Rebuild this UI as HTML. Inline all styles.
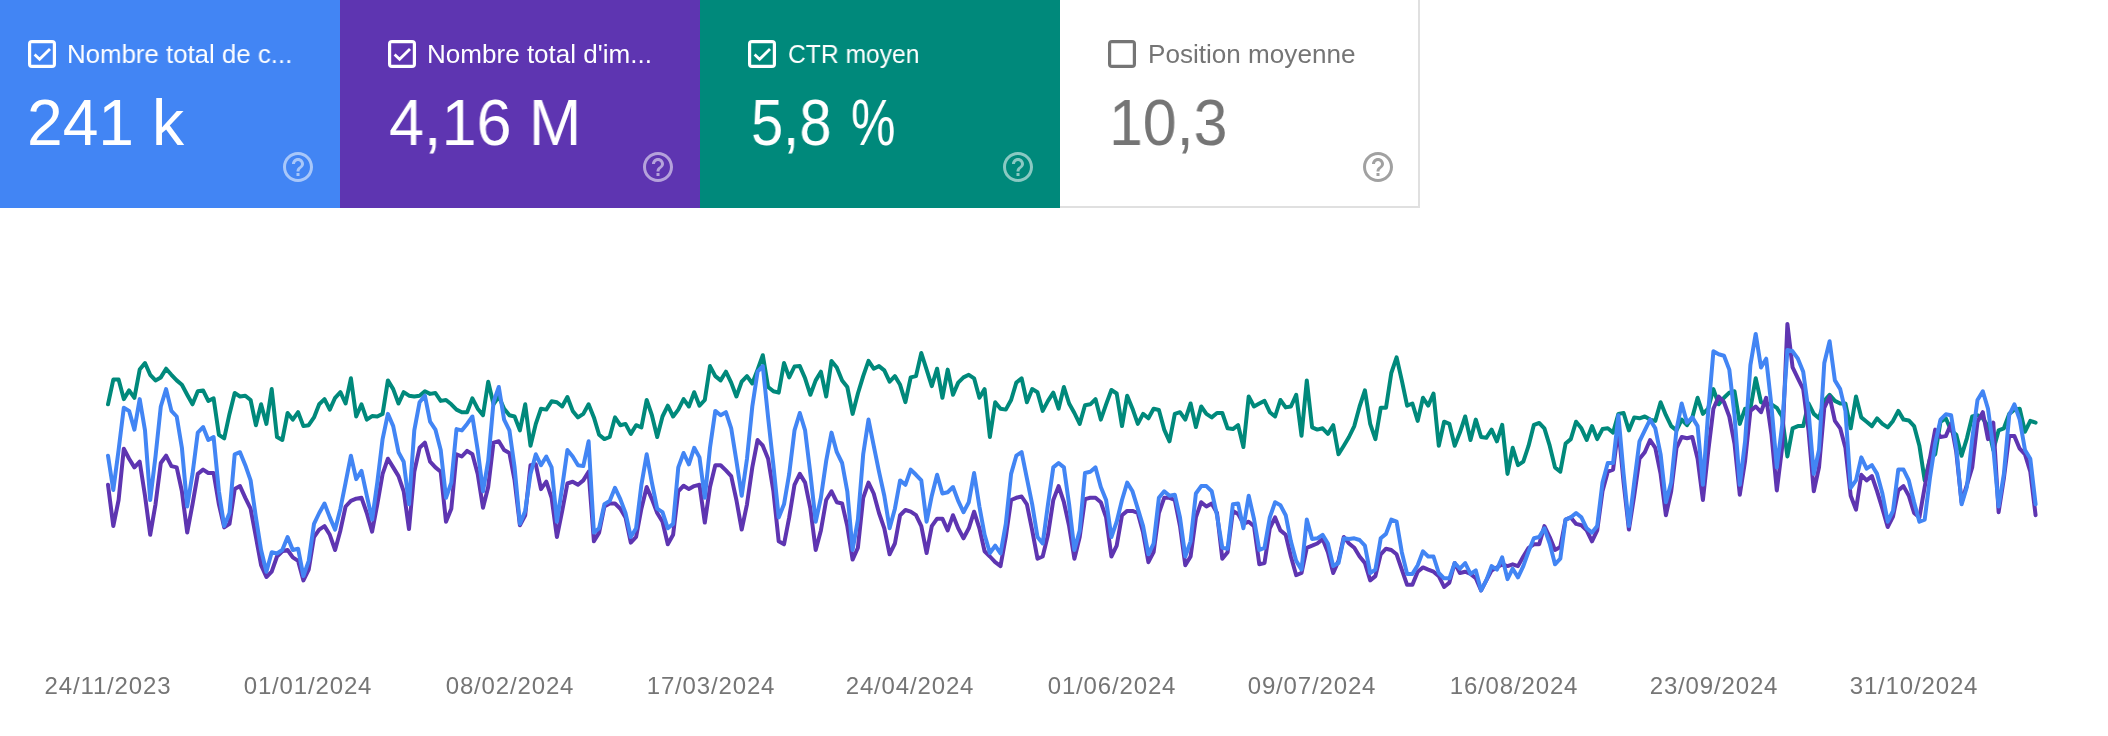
<!DOCTYPE html>
<html><head><meta charset="utf-8"><title>Performances</title>
<style>
html,body{margin:0;padding:0;background:#fff;}
body{width:2108px;height:736px;position:relative;overflow:hidden;font-family:"Liberation Sans",sans-serif;}
.card{position:absolute;top:0;height:208px;}
.cb{position:absolute;left:48px;top:40px;}
.lab,.val,.date{will-change:transform;}
.lab{position:absolute;top:38px;font-size:26px;line-height:32px;white-space:nowrap;transform-origin:0 50%;}
.val{position:absolute;top:86px;font-size:64px;line-height:74px;white-space:nowrap;transform-origin:0 50%;}
.help{position:absolute;left:300px;top:149px;}
.date{position:absolute;top:671px;width:200px;text-align:center;font-size:24px;line-height:30px;color:#757575;letter-spacing:0.85px;}
svg.chart{position:absolute;left:0;top:0;}
polyline{fill:none;stroke-width:4;stroke-linejoin:round;stroke-linecap:round;}
</style></head><body>
<div class="card" style="left:-20px;width:360px;background:#4285f4;color:#fff;">
<svg class="cb" width="28" height="28" viewBox="0 0 28 28"><path d="M4 0H24A4 4 0 0 1 28 4V24A4 4 0 0 1 24 28H4A4 4 0 0 1 0 24V4A4 4 0 0 1 4 0ZM3.2 3.2V24.8H24.8V3.2Z" fill="#fff" fill-rule="evenodd"/><path d="M6.6 14.4 L11.6 19.3 L22 8.9" fill="none" stroke="#fff" stroke-width="2.8"/></svg>
<div class="lab" id="lab0" style="left:87.21px;transform:scaleX(0.9928)">Nombre total de c...</div>
<div class="val" id="val0_0" style="left:46.79px;transform:scaleX(1.0026)">241 k</div>
<svg class="help" width="36" height="36" viewBox="0 0 24 24" style="opacity:0.54"><path d="M11 18h2v-2h-2v2zm1-16C6.48 2 2 6.48 2 12s4.48 10 10 10 10-4.48 10-10S17.52 2 12 2zm0 18c-4.41 0-8-3.59-8-8s3.59-8 8-8 8 3.59 8 8-3.59 8-8 8zm0-14c-2.21 0-4 1.79-4 4h2c0-1.1.9-2 2-2s2 .9 2 2c0 2-3 1.75-3 5h2c0-2.25 3-2.5 3-5 0-2.21-1.79-4-4-4z" fill="#fff"/></svg>
</div>
<div class="card" style="left:340px;width:360px;background:#5e35b1;color:#fff;">
<svg class="cb" width="28" height="28" viewBox="0 0 28 28"><path d="M4 0H24A4 4 0 0 1 28 4V24A4 4 0 0 1 24 28H4A4 4 0 0 1 0 24V4A4 4 0 0 1 4 0ZM3.2 3.2V24.8H24.8V3.2Z" fill="#fff" fill-rule="evenodd"/><path d="M6.6 14.4 L11.6 19.3 L22 8.9" fill="none" stroke="#fff" stroke-width="2.8"/></svg>
<div class="lab" id="lab1" style="left:87.20px;transform:scaleX(1.0018)">Nombre total d'im...</div>
<div class="val" id="val1_0" style="left:48.62px;transform:scaleX(0.9832)">4,16 M</div>
<svg class="help" width="36" height="36" viewBox="0 0 24 24" style="opacity:0.54"><path d="M11 18h2v-2h-2v2zm1-16C6.48 2 2 6.48 2 12s4.48 10 10 10 10-4.48 10-10S17.52 2 12 2zm0 18c-4.41 0-8-3.59-8-8s3.59-8 8-8 8 3.59 8 8-3.59 8-8 8zm0-14c-2.21 0-4 1.79-4 4h2c0-1.1.9-2 2-2s2 .9 2 2c0 2-3 1.75-3 5h2c0-2.25 3-2.5 3-5 0-2.21-1.79-4-4-4z" fill="#fff"/></svg>
</div>
<div class="card" style="left:700px;width:360px;background:#00897b;color:#fff;">
<svg class="cb" width="28" height="28" viewBox="0 0 28 28"><path d="M4 0H24A4 4 0 0 1 28 4V24A4 4 0 0 1 24 28H4A4 4 0 0 1 0 24V4A4 4 0 0 1 4 0ZM3.2 3.2V24.8H24.8V3.2Z" fill="#fff" fill-rule="evenodd"/><path d="M6.6 14.4 L11.6 19.3 L22 8.9" fill="none" stroke="#fff" stroke-width="2.8"/></svg>
<div class="lab" id="lab2" style="left:88.26px;transform:scaleX(0.9475)">CTR moyen</div>
<div class="val" id="val2_0" style="left:50.59px;transform:scaleX(0.9036)">5,8</div>
<div class="val" id="val2_1" style="left:150.64px;transform:scaleX(0.7813)">%</div>
<svg class="help" width="36" height="36" viewBox="0 0 24 24" style="opacity:0.54"><path d="M11 18h2v-2h-2v2zm1-16C6.48 2 2 6.48 2 12s4.48 10 10 10 10-4.48 10-10S17.52 2 12 2zm0 18c-4.41 0-8-3.59-8-8s3.59-8 8-8 8 3.59 8 8-3.59 8-8 8zm0-14c-2.21 0-4 1.79-4 4h2c0-1.1.9-2 2-2s2 .9 2 2c0 2-3 1.75-3 5h2c0-2.25 3-2.5 3-5 0-2.21-1.79-4-4-4z" fill="#fff"/></svg>
</div>
<div class="card" style="left:1060px;width:360px;background:#fff;color:#757575;box-sizing:border-box;border-right:2px solid #e0e0e0;border-bottom:2px solid #e0e0e0;">
<svg class="cb" width="28" height="28" viewBox="0 0 28 28"><path d="M4 0H24A4 4 0 0 1 28 4V24A4 4 0 0 1 24 28H4A4 4 0 0 1 0 24V4A4 4 0 0 1 4 0ZM3.2 3.2V24.8H24.8V3.2Z" fill="#757575" fill-rule="evenodd"/></svg>
<div class="lab" id="lab3" style="left:88.19px;transform:scaleX(1.0039)">Position moyenne</div>
<div class="val" id="val3_0" style="left:48.65px;transform:scaleX(0.9505)">10,3</div>
<svg class="help" width="36" height="36" viewBox="0 0 24 24" style="opacity:0.68"><path d="M11 18h2v-2h-2v2zm1-16C6.48 2 2 6.48 2 12s4.48 10 10 10 10-4.48 10-10S17.52 2 12 2zm0 18c-4.41 0-8-3.59-8-8s3.59-8 8-8 8 3.59 8 8-3.59 8-8 8zm0-14c-2.21 0-4 1.79-4 4h2c0-1.1.9-2 2-2s2 .9 2 2c0 2-3 1.75-3 5h2c0-2.25 3-2.5 3-5 0-2.21-1.79-4-4-4z" fill="#757575"/></svg>
</div>

<svg class="chart" width="2108" height="736" viewBox="0 0 2108 736">
<polyline stroke="#00897b" points="108.0,404.3 113.3,379.6 118.6,379.6 123.8,399.1 129.1,390.4 134.4,397.8 139.7,369.6 145.0,363.0 150.2,374.8 155.5,380.4 160.8,377.4 166.1,368.7 171.4,374.8 176.7,380.4 181.9,384.8 187.2,394.8 192.5,404.3 197.8,391.3 203.1,390.4 208.3,400.9 213.6,398.3 218.9,434.8 224.2,438.3 229.5,413.9 234.7,393.0 240.0,396.5 245.3,395.7 250.6,400.0 255.9,425.2 261.1,404.3 266.4,423.9 271.7,389.1 277.0,437.0 282.3,440.0 287.6,413.0 292.8,419.6 298.1,412.2 303.4,426.1 308.7,425.2 314.0,417.4 319.2,404.3 324.5,399.1 329.8,409.6 335.1,397.8 340.4,392.2 345.6,403.5 350.9,378.3 356.2,416.5 361.5,404.3 366.8,419.6 372.1,416.1 377.3,416.5 382.6,413.9 387.9,380.4 393.2,389.1 398.5,403.5 403.7,392.2 409.0,395.7 414.3,396.5 419.6,395.7 424.9,391.3 430.1,393.9 435.4,393.0 440.7,400.9 446.0,400.0 451.3,404.3 456.5,409.6 461.8,412.2 467.1,412.2 472.4,398.3 477.7,408.7 483.0,415.2 488.2,381.7 493.5,404.3 498.8,396.5 504.1,408.7 509.4,415.2 514.6,416.5 519.9,430.4 525.2,404.3 530.5,445.7 535.8,423.9 541.0,408.7 546.3,409.6 551.6,401.3 556.9,402.2 562.2,406.5 567.4,397.0 572.7,410.9 578.0,417.4 583.3,413.9 588.6,404.3 593.9,417.4 599.1,434.8 604.4,439.1 609.7,437.0 615.0,417.4 620.3,425.2 625.5,423.9 630.8,433.9 636.1,425.2 641.4,427.4 646.7,400.0 651.9,415.2 657.2,437.0 662.5,416.5 667.8,405.7 673.1,416.5 678.3,409.6 683.6,399.1 688.9,406.5 694.2,392.2 699.5,405.7 704.8,400.0 710.0,366.1 715.3,376.1 720.6,380.4 725.9,371.7 731.2,382.6 736.4,396.5 741.7,381.7 747.0,376.1 752.3,383.5 757.6,369.6 762.8,355.2 768.1,387.0 773.4,391.3 778.7,392.6 784.0,363.0 789.2,377.4 794.5,366.5 799.8,366.1 805.1,378.3 810.4,394.8 815.7,380.4 820.9,371.7 826.2,396.5 831.5,360.9 836.8,367.4 842.1,380.4 847.3,387.0 852.6,413.9 857.9,393.5 863.2,376.1 868.5,360.9 873.7,368.7 879.0,366.1 884.3,370.4 889.6,381.7 894.9,376.1 900.1,384.8 905.4,402.2 910.7,377.4 916.0,376.1 921.3,353.0 926.6,369.6 931.8,386.1 937.1,368.7 942.4,397.8 947.7,369.6 953.0,394.8 958.2,382.6 963.5,377.4 968.8,374.8 974.1,378.3 979.4,397.8 984.6,389.1 989.9,437.0 995.2,402.2 1000.5,408.7 1005.8,409.6 1011.1,400.0 1016.3,382.6 1021.6,378.3 1026.9,402.2 1032.2,389.1 1037.5,392.2 1042.7,410.9 1048.0,400.9 1053.3,392.6 1058.6,408.7 1063.9,387.0 1069.1,403.5 1074.4,413.0 1079.7,423.9 1085.0,405.2 1090.3,404.3 1095.5,399.1 1100.8,419.6 1106.1,404.3 1111.4,390.0 1116.7,393.5 1122.0,426.1 1127.2,395.7 1132.5,408.7 1137.8,423.9 1143.1,413.9 1148.4,418.3 1153.6,408.7 1158.9,410.0 1164.2,429.6 1169.5,441.3 1174.8,413.9 1180.0,412.2 1185.3,419.6 1190.6,403.5 1195.9,427.0 1201.2,406.5 1206.4,413.9 1211.7,417.4 1217.0,413.0 1222.3,413.0 1227.6,428.3 1232.9,429.1 1238.1,425.2 1243.4,447.0 1248.7,396.5 1254.0,406.5 1259.3,403.5 1264.5,400.9 1269.8,412.2 1275.1,416.5 1280.4,400.0 1285.7,407.4 1290.9,406.5 1296.2,394.8 1301.5,435.7 1306.8,380.4 1312.1,427.4 1317.3,429.6 1322.6,428.3 1327.9,433.9 1333.2,425.2 1338.5,454.3 1343.8,445.7 1349.0,437.0 1354.3,426.1 1359.6,406.5 1364.9,390.4 1370.2,423.9 1375.4,439.1 1380.7,407.8 1386.0,407.8 1391.3,373.0 1396.6,357.4 1401.8,380.4 1407.1,405.7 1412.4,403.5 1417.7,420.9 1423.0,397.8 1428.2,405.7 1433.5,393.5 1438.8,445.7 1444.1,421.7 1449.4,423.9 1454.7,445.7 1459.9,432.6 1465.2,416.5 1470.5,440.0 1475.8,419.6 1481.1,437.0 1486.3,437.8 1491.6,429.6 1496.9,441.3 1502.2,424.8 1507.5,473.9 1512.7,447.8 1518.0,465.2 1523.3,461.7 1528.6,445.7 1533.9,424.8 1539.2,423.0 1544.4,428.3 1549.7,445.7 1555.0,467.4 1560.3,471.7 1565.6,443.5 1570.8,439.1 1576.1,421.7 1581.4,428.3 1586.7,440.0 1592.0,426.1 1597.2,439.1 1602.5,429.1 1607.8,428.3 1613.1,432.6 1618.4,413.9 1623.6,413.0 1628.9,430.4 1634.2,417.4 1639.5,418.3 1644.8,416.5 1650.1,419.6 1655.3,420.9 1660.6,402.2 1665.9,415.2 1671.2,426.1 1676.5,430.4 1681.7,419.6 1687.0,425.2 1692.3,417.4 1697.6,397.8 1702.9,413.9 1708.1,408.7 1713.4,389.1 1718.7,404.3 1724.0,397.8 1729.3,392.6 1734.5,391.3 1739.8,423.9 1745.1,408.7 1750.4,408.7 1755.7,378.3 1761.0,402.2 1766.2,404.3 1771.5,404.3 1776.8,407.8 1782.1,416.5 1787.4,456.5 1792.6,428.3 1797.9,426.1 1803.2,426.1 1808.5,403.5 1813.8,413.9 1819.0,418.3 1824.3,400.9 1829.6,394.8 1834.9,400.9 1840.2,403.5 1845.4,403.5 1850.7,428.3 1856.0,396.5 1861.3,417.4 1866.6,421.7 1871.9,426.1 1877.1,418.3 1882.4,423.9 1887.7,427.4 1893.0,420.9 1898.3,410.9 1903.5,419.6 1908.8,420.4 1914.1,426.1 1919.4,445.7 1924.7,480.4 1929.9,458.7 1935.2,454.3 1940.5,421.7 1945.8,418.3 1951.1,430.4 1956.3,434.8 1961.6,455.7 1966.9,438.3 1972.2,416.5 1977.5,415.2 1982.8,418.3 1988.0,426.1 1993.3,450.0 1998.6,430.4 2003.9,428.3 2009.2,413.9 2014.4,409.6 2019.7,408.7 2025.0,431.7 2030.3,420.9 2035.6,422.6"/>
<polyline stroke="#5e35b1" points="108.0,484.8 113.3,526.1 118.6,500.0 123.8,448.7 129.1,458.7 134.4,467.4 139.7,461.7 145.0,495.7 150.2,534.8 155.5,504.3 160.8,463.0 166.1,455.7 171.4,466.1 176.7,467.4 181.9,491.3 187.2,532.6 192.5,504.3 197.8,473.9 203.1,469.6 208.3,473.0 213.6,473.0 218.9,504.3 224.2,527.4 229.5,523.9 234.7,489.1 240.0,486.1 245.3,497.8 250.6,508.7 255.9,537.0 261.1,565.2 266.4,577.0 271.7,571.7 277.0,556.5 282.3,551.3 287.6,550.0 292.8,557.4 298.1,560.9 303.4,580.4 308.7,569.6 314.0,537.0 319.2,529.6 324.5,526.1 329.8,534.8 335.1,550.0 340.4,530.4 345.6,506.5 350.9,500.9 356.2,498.7 361.5,497.8 366.8,513.0 372.1,531.7 377.3,504.3 382.6,473.9 387.9,458.7 393.2,467.4 398.5,476.1 403.7,491.3 409.0,529.1 414.3,471.7 419.6,447.8 424.9,442.6 430.1,461.7 435.4,467.4 440.7,471.7 446.0,521.7 451.3,508.7 456.5,454.3 461.8,456.5 467.1,450.9 472.4,454.3 477.7,473.9 483.0,507.8 488.2,487.0 493.5,442.6 498.8,441.3 504.1,450.0 509.4,453.0 514.6,480.4 519.9,525.2 525.2,515.2 530.5,465.2 535.8,464.3 541.0,489.1 546.3,481.7 551.6,497.8 556.9,537.0 562.2,510.9 567.4,483.5 572.7,481.7 578.0,484.8 583.3,480.4 588.6,471.7 593.9,541.3 599.1,532.6 604.4,506.5 609.7,503.5 615.0,503.5 620.3,508.7 625.5,517.4 630.8,542.6 636.1,537.0 641.4,508.7 646.7,487.0 651.9,499.1 657.2,513.0 662.5,521.7 667.8,544.3 673.1,534.8 678.3,491.3 683.6,485.7 688.9,489.1 694.2,486.1 699.5,484.8 704.8,522.6 710.0,487.0 715.3,465.2 720.6,465.2 725.9,470.4 731.2,476.1 736.4,500.0 741.7,529.6 747.0,504.3 752.3,467.4 757.6,440.0 762.8,445.7 768.1,458.7 773.4,491.3 778.7,541.3 784.0,544.3 789.2,517.4 794.5,484.8 799.8,473.9 805.1,482.6 810.4,508.7 815.7,550.0 820.9,530.4 826.2,500.0 831.5,491.3 836.8,502.2 842.1,503.5 847.3,526.1 852.6,559.6 857.9,547.8 863.2,497.8 868.5,482.6 873.7,493.5 879.0,513.0 884.3,528.3 889.6,554.3 894.9,543.5 900.1,515.2 905.4,510.0 910.7,511.7 916.0,515.2 921.3,526.1 926.6,553.0 931.8,526.1 937.1,518.7 942.4,518.7 947.7,530.4 953.0,515.2 958.2,528.3 963.5,538.3 968.8,528.3 974.1,511.7 979.4,528.3 984.6,551.3 989.9,556.5 995.2,562.2 1000.5,566.1 1005.8,537.0 1011.1,500.0 1016.3,497.8 1021.6,496.5 1026.9,504.3 1032.2,530.4 1037.5,558.7 1042.7,556.5 1048.0,534.8 1053.3,500.0 1058.6,486.1 1063.9,502.2 1069.1,526.1 1074.4,558.7 1079.7,537.0 1085.0,499.1 1090.3,497.8 1095.5,497.8 1100.8,502.2 1106.1,517.4 1111.4,556.5 1116.7,545.7 1122.0,515.2 1127.2,510.9 1132.5,510.9 1137.8,513.0 1143.1,532.6 1148.4,562.2 1153.6,552.2 1158.9,513.0 1164.2,497.8 1169.5,497.8 1174.8,500.0 1180.0,526.1 1185.3,565.2 1190.6,556.5 1195.9,517.4 1201.2,502.2 1206.4,506.5 1211.7,503.5 1217.0,513.0 1222.3,558.7 1227.6,552.2 1232.9,510.9 1238.1,513.9 1243.4,523.9 1248.7,521.7 1254.0,526.1 1259.3,564.3 1264.5,563.0 1269.8,528.3 1275.1,517.4 1280.4,530.4 1285.7,534.8 1290.9,556.5 1296.2,575.2 1301.5,573.0 1306.8,547.8 1312.1,545.7 1317.3,543.5 1322.6,539.1 1327.9,552.2 1333.2,573.0 1338.5,560.9 1343.8,537.0 1349.0,543.5 1354.3,547.8 1359.6,556.5 1364.9,563.0 1370.2,580.4 1375.4,576.1 1380.7,554.3 1386.0,548.7 1391.3,550.0 1396.6,554.3 1401.8,569.6 1407.1,584.8 1412.4,584.8 1417.7,571.7 1423.0,567.4 1428.2,569.6 1433.5,571.7 1438.8,576.1 1444.1,587.0 1449.4,582.6 1454.7,563.0 1459.9,573.0 1465.2,571.7 1470.5,573.9 1475.8,578.3 1481.1,590.4 1486.3,580.4 1491.6,570.4 1496.9,567.4 1502.2,564.3 1507.5,566.1 1512.7,564.3 1518.0,566.1 1523.3,556.5 1528.6,547.8 1533.9,544.3 1539.2,544.3 1544.4,526.1 1549.7,537.0 1555.0,550.0 1560.3,547.0 1565.6,519.6 1570.8,517.4 1576.1,523.9 1581.4,525.2 1586.7,530.4 1592.0,541.3 1597.2,530.4 1602.5,491.3 1607.8,471.7 1613.1,469.6 1618.4,428.3 1623.6,482.6 1628.9,529.6 1634.2,495.7 1639.5,458.7 1644.8,452.2 1650.1,440.0 1655.3,447.8 1660.6,473.9 1665.9,515.2 1671.2,491.3 1676.5,447.8 1681.7,437.0 1687.0,438.3 1692.3,437.0 1697.6,458.7 1702.9,500.0 1708.1,452.2 1713.4,408.7 1718.7,396.5 1724.0,402.2 1729.3,416.5 1734.5,443.5 1739.8,494.8 1745.1,460.9 1750.4,410.9 1755.7,406.5 1761.0,412.2 1766.2,397.8 1771.5,434.8 1776.8,490.4 1782.1,447.8 1787.4,323.9 1792.6,367.4 1797.9,378.3 1803.2,389.1 1808.5,430.4 1813.8,491.3 1819.0,467.4 1824.3,407.8 1829.6,396.5 1834.9,420.9 1840.2,428.3 1845.4,447.8 1850.7,495.7 1856.0,509.6 1861.3,474.8 1866.6,480.4 1871.9,476.1 1877.1,491.3 1882.4,508.7 1887.7,527.0 1893.0,516.5 1898.3,490.4 1903.5,486.1 1908.8,495.7 1914.1,513.0 1919.4,517.4 1924.7,487.0 1929.9,458.7 1935.2,429.6 1940.5,437.0 1945.8,436.1 1951.1,423.9 1956.3,452.2 1961.6,502.2 1966.9,484.8 1972.2,467.4 1977.5,421.7 1982.8,412.2 1988.0,439.1 1993.3,422.6 1998.6,512.2 2003.9,478.3 2009.2,436.1 2014.4,436.1 2019.7,448.7 2025.0,454.3 2030.3,471.7 2035.6,515.2"/>
<polyline stroke="#4285f4" points="108.0,455.7 113.3,490.0 118.6,450.0 123.8,407.8 129.1,410.9 134.4,429.6 139.7,399.1 145.0,430.4 150.2,500.0 155.5,456.5 160.8,406.5 166.1,389.1 171.4,410.9 176.7,416.5 181.9,447.8 187.2,506.5 192.5,473.9 197.8,432.6 203.1,427.0 208.3,440.0 213.6,437.0 218.9,491.3 224.2,526.1 229.5,513.0 234.7,454.3 240.0,452.2 245.3,465.2 250.6,480.4 255.9,517.4 261.1,550.0 266.4,571.7 271.7,552.2 277.0,553.5 282.3,550.0 287.6,537.0 292.8,550.0 298.1,548.7 303.4,576.1 308.7,560.9 314.0,523.9 319.2,513.0 324.5,503.5 329.8,517.4 335.1,529.6 340.4,508.7 345.6,482.6 350.9,455.7 356.2,479.1 361.5,470.9 366.8,495.7 372.1,519.6 377.3,482.6 382.6,439.1 387.9,413.9 393.2,426.1 398.5,452.2 403.7,461.7 409.0,504.3 414.3,430.4 419.6,402.2 424.9,395.7 430.1,421.7 435.4,429.6 440.7,450.0 446.0,497.8 451.3,482.6 456.5,429.1 461.8,430.4 467.1,423.9 472.4,416.5 477.7,450.0 483.0,491.3 488.2,460.9 493.5,402.2 498.8,387.0 504.1,419.6 509.4,430.4 514.6,467.4 519.9,523.9 525.2,510.9 530.5,473.9 535.8,454.3 541.0,465.2 546.3,456.5 551.6,467.4 556.9,521.7 562.2,487.0 567.4,450.0 572.7,456.5 578.0,465.2 583.3,466.1 588.6,441.3 593.9,532.6 599.1,528.3 604.4,504.3 609.7,500.9 615.0,487.8 620.3,499.1 625.5,513.0 630.8,537.0 636.1,528.3 641.4,484.8 646.7,454.3 651.9,482.6 657.2,508.7 662.5,512.2 667.8,528.3 673.1,523.9 678.3,467.4 683.6,453.0 688.9,464.3 694.2,447.8 699.5,457.4 704.8,497.8 710.0,447.8 715.3,410.9 720.6,415.2 725.9,412.2 731.2,428.3 736.4,460.9 741.7,495.7 747.0,458.7 752.3,406.5 757.6,371.7 762.8,366.1 768.1,417.4 773.4,465.2 778.7,517.4 784.0,504.3 789.2,473.9 794.5,430.4 799.8,413.0 805.1,430.4 810.4,473.9 815.7,521.7 820.9,497.8 826.2,460.9 831.5,432.6 836.8,452.2 842.1,463.0 847.3,491.3 852.6,550.0 857.9,519.6 863.2,454.3 868.5,419.6 873.7,445.7 879.0,471.7 884.3,495.7 889.6,528.3 894.9,508.7 900.1,480.4 905.4,484.8 910.7,469.6 916.0,474.8 921.3,480.4 926.6,521.7 931.8,495.7 937.1,474.8 942.4,493.5 947.7,492.2 953.0,487.0 958.2,500.9 963.5,512.2 968.8,502.2 974.1,473.0 979.4,506.5 984.6,534.8 989.9,553.0 995.2,545.7 1000.5,553.5 1005.8,523.9 1011.1,473.9 1016.3,455.7 1021.6,452.2 1026.9,478.3 1032.2,504.3 1037.5,537.0 1042.7,543.5 1048.0,504.3 1053.3,467.4 1058.6,463.0 1063.9,467.4 1069.1,504.3 1074.4,550.0 1079.7,530.4 1085.0,473.0 1090.3,471.7 1095.5,467.4 1100.8,487.0 1106.1,500.0 1111.4,537.0 1116.7,521.7 1122.0,500.0 1127.2,482.6 1132.5,491.3 1137.8,508.7 1143.1,526.1 1148.4,554.3 1153.6,543.5 1158.9,497.8 1164.2,491.3 1169.5,495.7 1174.8,494.8 1180.0,517.4 1185.3,556.5 1190.6,541.3 1195.9,493.5 1201.2,486.1 1206.4,486.1 1211.7,491.3 1217.0,515.2 1222.3,547.8 1227.6,548.7 1232.9,504.3 1238.1,503.5 1243.4,528.3 1248.7,495.7 1254.0,519.0 1259.3,550.0 1264.5,547.8 1269.8,517.4 1275.1,502.2 1280.4,505.2 1285.7,515.2 1290.9,541.3 1296.2,560.9 1301.5,569.6 1306.8,519.6 1312.1,539.1 1317.3,538.3 1322.6,534.8 1327.9,543.5 1333.2,566.1 1338.5,563.0 1343.8,538.3 1349.0,539.1 1354.3,538.3 1359.6,540.0 1364.9,545.7 1370.2,573.0 1375.4,569.6 1380.7,538.3 1386.0,533.9 1391.3,519.6 1396.6,521.7 1401.8,552.2 1407.1,573.9 1412.4,573.9 1417.7,565.2 1423.0,551.3 1428.2,556.5 1433.5,556.5 1438.8,573.0 1444.1,578.3 1449.4,578.3 1454.7,563.0 1459.9,568.7 1465.2,563.0 1470.5,573.9 1475.8,570.4 1481.1,590.4 1486.3,580.4 1491.6,566.1 1496.9,569.6 1502.2,557.4 1507.5,579.1 1512.7,568.7 1518.0,577.4 1523.3,566.1 1528.6,551.3 1533.9,538.3 1539.2,537.0 1544.4,528.3 1549.7,543.5 1555.0,564.3 1560.3,558.7 1565.6,519.6 1570.8,517.4 1576.1,513.0 1581.4,517.4 1586.7,528.3 1592.0,532.6 1597.2,526.1 1602.5,482.6 1607.8,463.0 1613.1,463.0 1618.4,415.2 1623.6,473.9 1628.9,526.1 1634.2,482.6 1639.5,441.3 1644.8,430.4 1650.1,419.6 1655.3,428.3 1660.6,454.3 1665.9,502.2 1671.2,482.6 1676.5,429.6 1681.7,403.5 1687.0,422.6 1692.3,417.4 1697.6,426.1 1702.9,484.8 1708.1,413.0 1713.4,351.3 1718.7,354.3 1724.0,355.7 1729.3,369.6 1734.5,415.2 1739.8,484.8 1745.1,441.3 1750.4,365.2 1755.7,333.9 1761.0,367.4 1766.2,358.7 1771.5,406.5 1776.8,467.4 1782.1,426.1 1787.4,350.0 1792.6,351.3 1797.9,358.7 1803.2,371.7 1808.5,410.9 1813.8,473.9 1819.0,450.0 1824.3,363.0 1829.6,341.3 1834.9,380.4 1840.2,389.1 1845.4,410.9 1850.7,487.8 1856.0,480.4 1861.3,457.4 1866.6,468.7 1871.9,465.2 1877.1,473.9 1882.4,493.5 1887.7,521.7 1893.0,510.9 1898.3,469.6 1903.5,469.6 1908.8,480.4 1914.1,502.2 1919.4,521.7 1924.7,519.6 1929.9,478.3 1935.2,443.5 1940.5,419.6 1945.8,414.3 1951.1,415.2 1956.3,447.8 1961.6,504.3 1966.9,487.0 1972.2,439.1 1977.5,400.0 1982.8,391.3 1988.0,408.7 1993.3,447.8 1998.6,506.5 2003.9,473.9 2009.2,415.2 2014.4,404.3 2019.7,419.6 2025.0,450.0 2030.3,458.7 2035.6,504.3"/>
</svg>
<div class="date" style="left:8.0px">24/11/2023</div>
<div class="date" style="left:208.1px">01/01/2024</div>
<div class="date" style="left:409.9px">08/02/2024</div>
<div class="date" style="left:610.5px">17/03/2024</div>
<div class="date" style="left:810.3px">24/04/2024</div>
<div class="date" style="left:1012.4px">01/06/2024</div>
<div class="date" style="left:1212.2px">09/07/2024</div>
<div class="date" style="left:1413.9px">16/08/2024</div>
<div class="date" style="left:1613.8px">23/09/2024</div>
<div class="date" style="left:1813.8px">31/10/2024</div>

</body></html>
